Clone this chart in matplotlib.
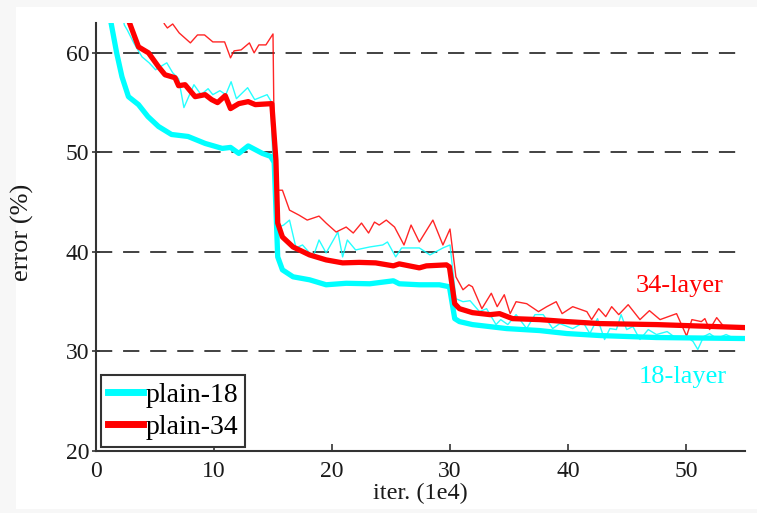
import matplotlib
matplotlib.use("Agg")
import matplotlib.pyplot as plt
from matplotlib.patches import Rectangle

plt.rcParams['font.family'] = ['Liberation Serif', 'DejaVu Serif']

# plain-18 validation (bold)
val18_x = [1.2, 1.75, 2.2, 2.75, 3.6, 4.4, 5.3, 6.4, 7.8, 9.25, 10.7, 11.4, 12.1, 12.9, 14.1, 14.8,
           15.1, 15.4, 15.8, 16.7, 18.1, 19.5, 21.2, 23.2, 25.2, 25.7, 27.4, 29.1, 29.95,
           30.4, 30.8, 31.9, 34.8, 37.6, 39.9, 42.7, 47.5, 55.0]
val18_y = [63.5, 60.0, 57.6, 55.6, 54.8, 53.6, 52.6, 51.8, 51.6, 50.9, 50.4, 50.5, 49.9, 50.65, 49.9, 49.6,
           49.0, 39.5, 38.2, 37.5, 37.2, 36.7, 36.85, 36.8, 37.1, 36.8, 36.7, 36.7, 36.5,
           33.3, 33.0, 32.7, 32.3, 32.1, 31.8, 31.6, 31.4, 31.3]

# plain-34 validation (bold)
val34_x = [2.75, 3.6, 4.45, 5.3, 5.85, 6.7, 7.0, 7.55, 8.4, 9.25, 9.8, 10.3, 10.95, 11.4, 12.1, 12.9,
           13.5, 14.9, 15.25, 15.4, 15.8, 16.7, 18.1, 19.5, 20.9, 22.3, 23.7, 25.2, 25.7, 27.4,
           28.0, 29.7, 29.95, 30.4, 30.8, 31.9, 33.4, 34.2, 35.3, 37.6, 39.9, 42.7, 47.5, 55.0]
val34_y = [63.3, 60.6, 60.0, 58.6, 57.8, 57.5, 56.7, 56.8, 55.6, 55.8, 55.3, 55.0, 55.7, 54.4, 54.9, 55.1,
           54.8, 54.9, 49.2, 42.9, 41.5, 40.5, 39.7, 39.2, 38.9, 38.95, 38.9, 38.6, 38.8, 38.4,
           38.6, 38.7, 38.5, 34.8, 34.3, 33.9, 33.7, 33.8, 33.3, 33.2, 33.0, 32.8, 32.7, 32.4]

# plain-18 training (thin)
train18_x = [2.3, 2.4, 2.65, 3.2, 3.9, 4.5, 5.05, 5.3, 6.0, 6.5, 7.0, 7.45, 8.3, 8.9, 9.5, 9.9, 10.5,
             11.0, 11.45, 11.9, 12.85, 13.45, 14.5, 14.8, 15.2, 15.5, 15.9, 16.4, 16.95, 17.5, 18.4,
             18.9, 19.5, 20.5, 20.9, 21.3, 22.0, 23.2, 24.3, 24.7, 25.4, 25.9, 27.4, 28.3, 29.4, 30.0,
             30.5, 31.1, 31.7, 32.5, 33.1, 33.9, 34.3, 34.9, 35.6, 36.5, 37.2, 37.9, 38.7, 39.3, 40.4,
             41.3, 41.85, 42.5, 43.1, 43.55, 44.1, 44.5, 44.97, 45.5, 46.1, 46.8, 47.5, 48.4, 49.2,
             50.05, 50.6, 51.0, 51.5, 52.0, 52.6, 53.4, 54.3, 55.0]
train18_y = [63.5, 62.8, 62.3, 61.0, 59.6, 59.0, 58.3, 58.5, 59.0, 58.0, 57.4, 54.5, 56.8, 55.8, 56.4, 55.8, 56.2,
             55.8, 57.1, 55.4, 56.5, 55.3, 55.8, 55.2, 43.0, 42.5, 42.7, 43.2, 40.4, 40.7, 39.5,
             41.2, 39.9, 42.0, 39.5, 41.2, 40.2, 40.5, 40.7, 41.0, 39.5, 40.4, 40.4, 39.7, 40.4, 40.7,
             35.3, 35.0, 35.1, 34.0, 34.3, 32.7, 33.2, 32.7, 33.7, 32.3, 33.7, 33.7, 32.3, 32.8, 32.3,
             32.9, 31.8, 33.3, 31.2, 32.3, 32.2, 33.7, 32.2, 32.5, 31.2, 32.2, 31.7, 32.0, 31.3,
             31.5, 31.0, 30.2, 31.5, 31.8, 31.3, 31.7, 31.2, 31.4]

# plain-34 training (thin)
train34_x = [5.6, 5.8, 6.05, 6.5, 7.05, 8.0, 8.6, 9.2, 9.9, 10.9, 11.4, 11.7, 12.3, 13.0, 13.4, 13.8,
             14.4, 15.0, 15.15, 15.8, 16.4, 17.2, 17.9, 18.9, 19.5, 20.35, 21.2, 21.8, 22.5, 23.1,
             23.6, 24.0, 24.6, 25.3, 26.1, 26.7, 27.4, 28.55, 29.4, 30.0, 30.5, 31.1, 31.6, 31.9,
             32.7, 33.5, 34.0, 34.6, 35.1, 35.6, 36.5, 37.5, 38.2, 39.0, 39.5, 40.4, 41.6, 42.0,
             42.6, 43.2, 43.7, 44.3, 45.1, 46.1, 46.9, 47.8, 49.2, 50.05, 50.5, 51.3, 51.6, 52.0,
             52.6, 53.2, 55.0]
train34_y = [63.5, 62.9, 62.5, 62.9, 62.0, 61.0, 61.8, 61.8, 61.1, 61.1, 59.5, 60.2, 60.3, 61.0, 60.0, 60.8,
             60.8, 61.9, 46.2, 46.2, 44.2, 43.7, 43.2, 43.6, 42.9, 42.0, 42.5, 41.9, 42.9, 41.9,
             43.0, 42.7, 43.2, 42.5, 40.7, 42.7, 41.0, 43.2, 40.7, 42.3, 37.5, 36.2, 36.7, 36.5,
             34.3, 35.85, 34.5, 35.7, 33.8, 35.0, 34.8, 34.0, 34.5, 35.0, 33.8, 34.5, 34.0, 33.2,
             34.3, 33.5, 34.5, 33.7, 34.7, 33.2, 34.1, 33.2, 33.8, 31.55, 33.2, 33.0, 33.3, 32.2,
             33.4, 32.5, 32.5]

grid_y = [30, 40, 50, 60]
x_ticks = [0, 10, 20, 30, 40, 50]
y_ticks = [20, 30, 40, 50, 60]

cyan = '#00ffff'
red = '#ff0000'
dark = '#333333'

fig = plt.figure(figsize=(7.57, 5.13), dpi=100)
fig.patch.set_facecolor('#f7f7f7')
fig.patches.append(Rectangle((16 / 757, 4 / 513), 1 - 16 / 757, 502 / 513,
                             transform=fig.transFigure, facecolor='white', edgecolor='none', zorder=-10))

ax = fig.add_axes([96 / 757, 62 / 513, 649 / 757, 428 / 513])
ax.set_facecolor('none')

for g in grid_y:
    ax.axhline(g, color=dark, lw=1.3, dashes=(9, 6), zorder=1)

ax.plot(train18_x, train18_y, color=cyan, lw=1.0, alpha=0.85, zorder=2)
ax.plot(train34_x, train34_y, color=red, lw=1.0, alpha=0.85, zorder=2)
ax.plot(val18_x, val18_y, color=cyan, lw=3.8, label='plain-18', zorder=3, solid_joinstyle='round')
ax.plot(val34_x, val34_y, color=red, lw=3.8, label='plain-34', zorder=3, solid_joinstyle='round')

ax.set_xlim(0, 55)
ax.set_ylim(20, 63)
ax.set_xticks(x_ticks)
ax.set_yticks(y_ticks)

for s in ['top', 'right']:
    ax.spines[s].set_visible(False)
for s in ['left', 'bottom']:
    ax.spines[s].set_color(dark)
    ax.spines[s].set_linewidth(1.5)

ax.tick_params(axis='x', direction='in', length=5, width=1.2, color=dark, pad=7,
               labelsize=17, labelcolor='#1a1a1a')
ax.tick_params(axis='y', direction='inout', length=6, width=1.2, color=dark, pad=2,
               labelsize=17, labelcolor='#1a1a1a')

ax.set_xlabel('iter. (1e4)', fontsize=17.5, labelpad=1, color='#1a1a1a')
ax.set_ylabel('error (%)', fontsize=19, labelpad=4, color='#1a1a1a')
ax.yaxis.set_label_coords(-0.095, 0.51)

ax.text(49.5, 36.6, '34-layer', color=red, fontsize=19, ha='center', va='center')
ax.text(49.7, 27.4, '18-layer', color=cyan, fontsize=19, ha='center', va='center')

leg = ax.legend(loc='lower left', bbox_to_anchor=(0.008, 0.009), borderaxespad=0,
                fontsize=20, handlelength=1.25, handletextpad=0.1, borderpad=0.25,
                labelspacing=0.25, fancybox=False, framealpha=1)
leg.get_frame().set_edgecolor(dark)
leg.get_frame().set_linewidth(1.5)
for line in leg.get_lines():
    line.set_linewidth(5)

fig.savefig('out.png', dpi=100, facecolor=fig.get_facecolor())
